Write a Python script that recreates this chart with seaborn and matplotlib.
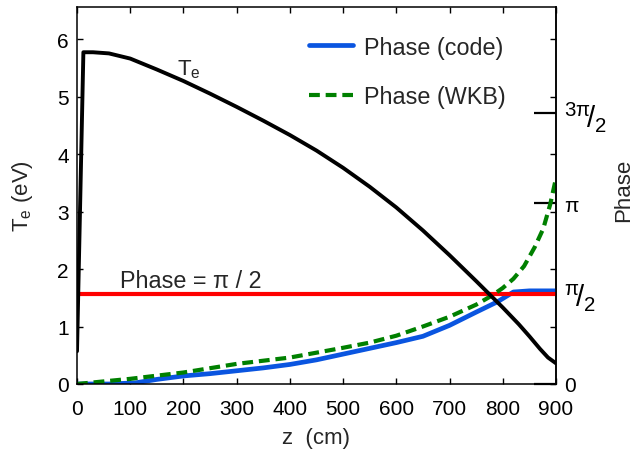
import numpy as np
import pandas as pd
import matplotlib
matplotlib.use("Agg")
import matplotlib.pyplot as plt
import seaborn as sns

# ---- data ----
z_te = [0, 12, 30, 60, 100, 150, 200, 250, 300, 350, 400, 450, 500, 550, 600,
        650, 700, 750, 800, 830, 850, 870, 885, 900]
te = [0.57, 5.77, 5.77, 5.75, 5.66, 5.47, 5.27, 5.05, 4.82, 4.58, 4.33, 4.06,
      3.76, 3.43, 3.07, 2.67, 2.24, 1.79, 1.33, 1.04, 0.83, 0.61, 0.46, 0.36]

z_code = [0, 20, 60, 110, 150, 200, 250, 300, 350, 400, 450, 500, 550, 600,
          650, 700, 750, 790, 820, 850, 900]
phase_code = [0.0, 0.0, 0.0, 0.02, 0.08, 0.14, 0.18, 0.23, 0.28, 0.34, 0.42,
              0.52, 0.62, 0.72, 0.83, 1.02, 1.25, 1.43, 1.60, 1.62, 1.62]

z_wkb = [0, 100, 200, 300, 400, 500, 550, 600, 650, 700, 750, 780, 800, 820,
         840, 860, 876, 889, 900]
phase_wkb = [0.0, 0.09, 0.20, 0.35, 0.46, 0.63, 0.72, 0.84, 1.00, 1.17, 1.38,
             1.54, 1.67, 1.83, 2.05, 2.38, 2.70, 3.12, 3.58]

z_ref = [0, 900]
phase_ref = [np.pi / 2, np.pi / 2]

x_ticks = [0, 100, 200, 300, 400, 500, 600, 700, 800, 900]
y_ticks = [0, 1, 2, 3, 4, 5, 6]
phase_ticks = [0, np.pi / 2, np.pi, 3 * np.pi / 2]
phase_tick_labels = ["0", r"$^{\mathrm{\pi}}\!/_{\mathrm{2}}$", r"$\mathrm{\pi}$",
                     r"$^{\mathrm{3\pi}}\!/_{\mathrm{2}}$"]

# ---- style ----
sns.set_style("ticks")
plt.rcParams["font.family"] = ["Liberation Sans", "DejaVu Sans"]
plt.rcParams["mathtext.fontset"] = "custom"
plt.rcParams["mathtext.rm"] = "Liberation Sans"
plt.rcParams["mathtext.it"] = "Liberation Sans:italic"
plt.rcParams["axes.linewidth"] = 1.1
plt.rcParams["axes.edgecolor"] = "black"

FS = 15
FS_BIG = 16.8

fig = plt.figure(figsize=(6.36, 4.56), dpi=100)
ax = fig.add_axes([77 / 636, 1 - 385 / 456, (556 - 77) / 636, (385 - 8) / 456])

df_code = pd.DataFrame({"z": z_code, "phase": phase_code})
df_wkb = pd.DataFrame({"z": z_wkb, "phase": phase_wkb})
df_ref = pd.DataFrame({"z": z_ref, "phase": phase_ref})
df_te = pd.DataFrame({"z": z_te, "te": te})

sns.lineplot(data=df_code, x="z", y="phase", ax=ax, color="#0a55e0", lw=3.4,
             label="Phase (code)", sort=False, estimator=None)
sns.lineplot(data=df_ref, x="z", y="phase", ax=ax, color="#ff0000", lw=3.0,
             sort=False, estimator=None, legend=False)
sns.lineplot(data=df_wkb, x="z", y="phase", ax=ax, color="#008000", lw=3.0,
             label="Phase (WKB)", sort=False, estimator=None)
ax.lines[-1].set_dashes((2.6, 1.4))
sns.lineplot(data=df_te, x="z", y="te", ax=ax, color="black", lw=2.8,
             sort=False, estimator=None, legend=False)

ax.set_xlim(0, 900)
ax.set_ylim(0, 6.557)
ax.set_xticks(x_ticks)
ax.set_yticks(y_ticks)
ax.tick_params(direction="in", top=True, right=True, length=4, width=1,
               labelsize=FS, colors="black")
ax.tick_params(axis="x", pad=11)
ax.tick_params(axis="y", pad=6)
ax.set_xlabel("z  (cm)", fontsize=16, labelpad=6)
ax.set_ylabel(r"T$_\mathrm{e}$ (eV)", fontsize=16, labelpad=16)

# right-hand phase axis
ax2 = ax.secondary_yaxis("right")
ax2.set_yticks(phase_ticks)
ax2.set_yticklabels(phase_tick_labels)
ax2.tick_params(direction="in", length=16, width=1.6, labelsize=FS,
                colors="black", pad=6)
ax2.spines["right"].set_linewidth(1.1)
for lbl in ax2.get_yticklabels():
    if "/" in lbl.get_text():
        lbl.set_fontsize(21)
fig.text(624 / 636, 1 - 190 / 456, "Phase", rotation=90, fontsize=16,
         ha="center", va="center")

# annotations
ax.text(188, 5.39, r"T$_\mathrm{e}$", fontsize=16, ha="left", va="baseline")
ax.text(81, 1.69, "Phase = π / 2", fontsize=FS_BIG, ha="left", va="baseline")

handles, labels = ax.get_legend_handles_labels()
leg = ax.legend(handles, labels, loc="upper left", bbox_to_anchor=(0.44, 0.98),
                frameon=False, fontsize=FS_BIG, handlelength=1.9,
                labelspacing=1.15, handletextpad=0.45)
leg.legend_handles[1].set_dashes((2.6, 1.4))

fig.savefig("out.png", dpi=100)
